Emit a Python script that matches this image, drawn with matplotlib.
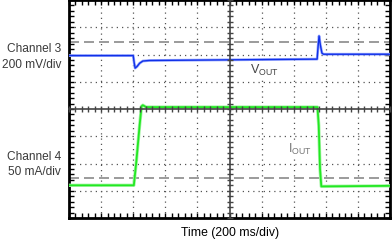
import matplotlib
matplotlib.use("Agg")
import matplotlib.pyplot as plt
from matplotlib.ticker import MultipleLocator, NullFormatter

plt.rcParams['font.family'] = ['Liberation Sans', 'DejaVu Sans']
plt.rcParams['mathtext.fontset'] = 'custom'
plt.rcParams['mathtext.rm'] = 'Liberation Sans'
plt.rcParams['mathtext.it'] = 'Liberation Sans'

# Time in divisions (-5..5), value in divisions (-4..4)
vout_t = [-5.0, -3.0, -2.97, -2.94, -2.88, -2.8, -2.7, -2.5, 2.73, 2.76, 2.79, 2.83, 2.88, 2.93, 5.0]
vout_v = [1.96, 1.96, 1.7, 1.5, 1.56, 1.68, 1.76, 1.78, 1.83, 2.3, 2.68, 2.35, 2.05, 2.01, 2.01]

iout_t = [-5.0, -2.98, -2.9, -2.8, -2.74, -2.7, -2.6, 2.74, 2.78, 2.82, 2.86, 5.0]
iout_v = [-2.8, -2.8, -1.9, -0.6, 0.1, 0.14, 0.07, 0.07, -0.6, -2.2, -2.84, -2.82]

ref_levels = [2.46, -2.53]

ch_labels = [("Channel 3", "200 mV/div"), ("Channel 4", "50 mA/div")]
xlabel = "Time (200 ms/div)"

fig = plt.figure(figsize=(3.92, 2.40), dpi=100)
pos = [69/392, 1 - 218/240, 321/392, 218/240]
ax = fig.add_axes(pos)
ax.set_xlim(-5, 5)
ax.set_ylim(-4, 4)

# dotted grid
for x in range(-4, 5):
    if x != 0:
        ax.axvline(x, color='#555555', lw=0.9, ls=(0, (1, 3.2)), zorder=1)
for y in range(-3, 4):
    if y != 0:
        ax.axhline(y, color='#555555', lw=0.9, ls=(0, (1, 3.2)), zorder=1)

# reference dashed lines
for lv in ref_levels:
    ax.axhline(lv, color='#8a8a8a', lw=1.2, ls=(0, (6, 3)), zorder=2)

# traces
ax.plot(vout_t, vout_v, color='#9aaaff', lw=2.0, zorder=3, solid_joinstyle='round')
ax.plot(vout_t, vout_v, color='#1030e8', lw=1.0, zorder=4)
ax.plot(iout_t, iout_v, color='#a8f5a8', lw=2.4, zorder=3)
ax.plot(iout_t, iout_v, color='#22e822', lw=1.3, zorder=4)

for s in ax.spines.values():
    s.set_linewidth(2)
    s.set_color('black')
ax.xaxis.set_major_locator(MultipleLocator(1))
ax.yaxis.set_major_locator(MultipleLocator(1))
ax.xaxis.set_minor_locator(MultipleLocator(0.2))
ax.yaxis.set_minor_locator(MultipleLocator(0.2))
ax.xaxis.set_major_formatter(NullFormatter())
ax.yaxis.set_major_formatter(NullFormatter())
ax.tick_params(which='both', direction='in', top=True, right=True, length=3.5, width=1, color='black')

# center axes with ticks
ax2 = fig.add_axes(pos, sharex=ax, sharey=ax)
ax2.patch.set_visible(False)
ax2.spines['top'].set_visible(False)
ax2.spines['right'].set_visible(False)
ax2.spines['left'].set_position(('data', 0))
ax2.spines['bottom'].set_position(('data', 0))
for k in ('left', 'bottom'):
    ax2.spines[k].set_color('#444444')
    ax2.spines[k].set_linewidth(1.2)
ax2.tick_params(which='both', direction='inout', length=4, width=1, color='#444444',
                labelleft=False, labelbottom=False)
ax2.set_zorder(0.5)

# labels
tc = '#3a3a3a'
fs = 8.6
fig.text(61/392, 1 - 49/240, ch_labels[0][0], ha='right', va='center', fontsize=fs, color=tc)
fig.text(61/392, 1 - 65/240, ch_labels[0][1], ha='right', va='center', fontsize=fs, color=tc)
fig.text(61/392, 1 - 157/240, ch_labels[1][0], ha='right', va='center', fontsize=fs, color=tc)
fig.text(61/392, 1 - 172/240, ch_labels[1][1], ha='right', va='center', fontsize=fs, color=tc)
fig.text(230/392, 1 - 233/240, xlabel, ha='center', va='center', fontsize=8.8, color='black')

ax.text(1.1, 1.43, r"V$_{\mathrm{OUT}}$", ha='center', va='center', fontsize=9, color='#444444',
        bbox=dict(facecolor='white', edgecolor='none', pad=1), zorder=5)
ax.text(2.2, -1.47, r"I$_{\mathrm{OUT}}$", ha='center', va='center', fontsize=9, color='#777777',
        bbox=dict(facecolor='white', edgecolor='none', pad=1), zorder=5)

fig.savefig('out.png', dpi=100)
